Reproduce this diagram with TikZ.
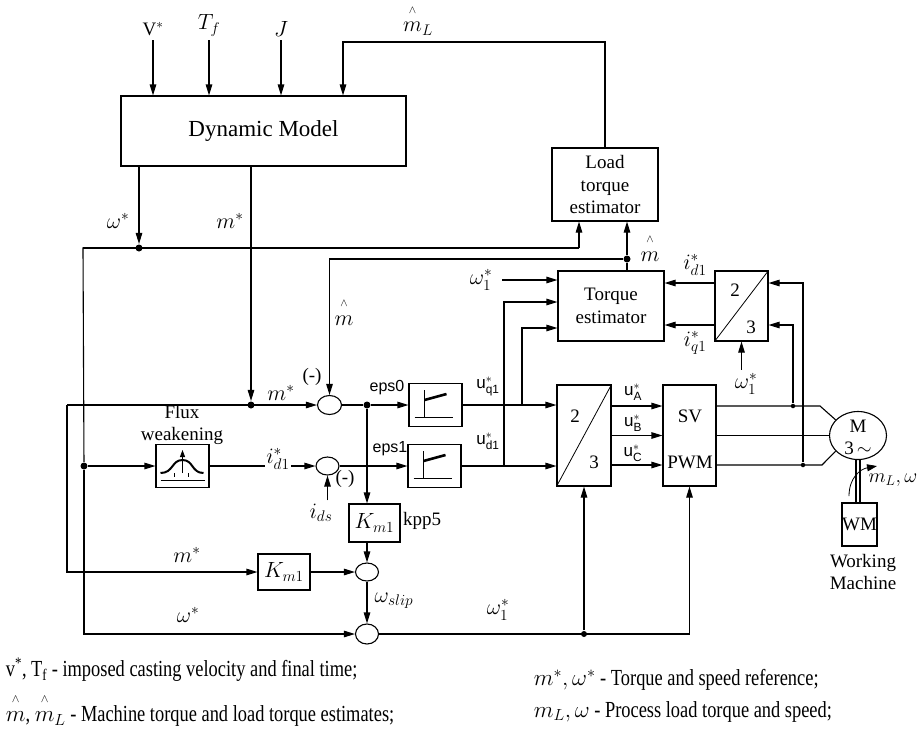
\documentclass[tikz,border=0pt]{standalone}
\usepackage{fix-cm}
\usepackage{amsmath}
\usepackage{fontspec}
\setmainfont{Liberation Serif}
\newfontfamily\sanslbl{Liberation Sans}
\newfontfamily\legendfont[FakeStretch=0.8]{Liberation Serif}
\usepackage{tikz}
\usetikzlibrary{shapes}
\usetikzlibrary{arrows.meta}
\newcommand\est[1]{\overset{\raisebox{5pt}{$\scriptscriptstyle\wedge$}}{#1}}
\tikzstyle{block}=[draw=black,rectangle,inner sep=0pt]
\tikzstyle{sumnode}=[draw=black,ellipse,inner sep=0pt,minimum width=24pt,minimum height=19pt]
\tikzstyle{joint}=[circle,fill=black,inner sep=0pt,minimum size=7pt]
\tikzstyle{tap}=[circle,fill=black,inner sep=0pt,minimum size=4.5pt]
\tikzstyle{arrow}=[-{Triangle[length=11pt,width=6.5pt]}]
\tikzstyle{sym}=[font=\fontsize{22}{24}\selectfont]
\tikzstyle{ulabel}=[font=\sanslbl\fontsize{17}{19}\selectfont]
\tikzstyle{legend}=[anchor=west,font=\fontsize{23}{25}\legendfont]
\tikzset{every picture/.style={
    line width=1.1pt
  }
}

\begin{document}
\begin{tikzpicture}[x=1pt,y=-1pt,font=\fontsize{19}{22.5}\selectfont]
      \useasboundingbox (0,0) rectangle (923,728);
      \node[block,minimum width=285pt,minimum height=70pt,font=\fontsize{23}{26}\selectfont] at (263.5,131) (dyn) {Dynamic Model};
      \node[anchor=south] at (153,40) (vref) {V$^*$};
      \node[sym,anchor=south] at (209,40) (tfin) {$T_f$};
      \node[sym,anchor=south] at (281,40) (jin) {$J$};
      \node[sym] at (418,20) (mlest) {$\est{m}_L$};
      \node[block,align=center,minimum width=106pt,minimum height=73pt] at (605,184.5) (lte) {Load\\torque\\estimator};
      \coordinate (mlcorner) at (343,42);
      \draw[arrow] (vref.south)--(vref.south|-dyn.north);
      \draw[arrow] (tfin.south)--(tfin.south|-dyn.north);
      \draw[arrow] (jin.south)--(jin.south|-dyn.north);
      \draw[arrow] (lte.north)|-(mlcorner)--(mlcorner|-dyn.north);

      \node[joint] at (139,248) (wdot) {};
      \node[joint] at (251,405) (mdot) {};
      \node[sym] at (118,221) {$\omega^*$};
      \node[sym] at (230,221) {$m^*$};
      \coordinate (wleft) at (83,248);
      \coordinate (wright) at (579,248);
      \coordinate (mleft) at (67,405);
      \draw[arrow] (dyn.south-|wdot)--(wdot);
      \draw[arrow] (dyn.south-|mdot)--(mdot);
      \draw (wleft)--(wright);
      \draw[arrow] (wright)--(wright|-lte.south);

      \node[block,align=center,minimum width=106pt,minimum height=70pt] at (611,306) (te) {Torque\\estimator};
      \node[joint] at (627,259) (mhdot) {};
      \node[sym] at (650,248) {$\est{m}$};
      \draw (te.north-|mhdot)--(mhdot);
      \draw[arrow] (mhdot)--(mhdot|-lte.south);
      \node[sumnode] at (329.5,405) (sum1) {};
      \draw[arrow] (mhdot)-|(sum1.north);
      \node[sym] at (344,312) {$\est{m}$};
      \node at (312,377) {(-)};
      \draw[arrow] (mleft)--(sum1);
      \node[sym] at (281,393) {$m^*$};

      \node[block,minimum width=53pt,minimum height=70pt] at (741.5,306) (tt1) {};
      \draw[line width=0.8pt] (tt1.south west)--(tt1.north east);
      \node at (735,290) {2};
      \node at (751,327) {3};
      \draw[arrow] ([yshift=23pt]tt1.west)--([yshift=23pt]te.east);
      \draw[arrow] ([yshift=-19pt]tt1.west)--([yshift=-19pt]te.east);
      \node[sym] at (695,265) {$i^*_{d1}$};
      \node[sym] at (695,343) {$i^*_{q1}$};
      \node[sym] at (481,280) (wone) {$\omega_1^*$};
      \draw[arrow] ([xshift=6pt]wone.east)--(wone.east-|te.west);
      \node[sym] at (746,384) (wtwo) {$\omega_1^*$};
      \draw[arrow] (tt1.south|-wtwo.north)--(tt1.south);

      \node[block,minimum width=53pt,minimum height=43pt] at (435.5,405) (pi1) {};
      \node[block,minimum width=53pt,minimum height=43pt] at (434.5,466) (pi2) {};
      \foreach \n in {pi1,pi2}{
        \draw[line width=0.9pt] ([shift={(-21,12)}]\n.center)--([shift={(17,12)}]\n.center);
        \draw[line width=0.9pt] ([shift={(-11,-15)}]\n.center)--([shift={(-11,12)}]\n.center);
        \draw[line width=2.6pt] ([shift={(-11,-5)}]\n.center)--([shift={(11,-11)}]\n.center);
      }
      \node[joint] at (367,405) (edot) {};
      \draw (sum1)--(edot);
      \draw[arrow] (edot)--(pi1);
      \node[font=\sanslbl\fontsize{16}{18}\selectfont] at (387,388) {eps0};
      \node[font=\sanslbl\fontsize{16}{18}\selectfont] at (390,449) {eps1};

      \node[joint] at (84,466) (fdot) {};
      \node[block,minimum width=53pt,minimum height=43pt] at (182.5,466) (fw) {};
      \draw[line width=2pt] ([shift={(-22,7)}]fw.center) .. controls ([shift={(-9,7)}]fw.center) and ([shift={(-11,-6)}]fw.center) .. ([shift={(0,-6)}]fw.center) .. controls ([shift={(11,-6)}]fw.center) and ([shift={(9,7)}]fw.center) .. ([shift={(21,7)}]fw.center);
      \draw[-{Triangle[length=7pt,width=5pt]},line width=0.9pt] ([shift={(0,7)}]fw.center)--([shift={(0,-16)}]fw.center);
      \draw[line width=0.9pt] ([shift={(-22,14)}]fw.center)--([shift={(22,14)}]fw.center);
      \draw[line width=0.7pt] ([shift={(-8,7)}]fw.center)--([shift={(-8,11)}]fw.center);
      \draw[line width=0.7pt] ([shift={(6,7)}]fw.center)--([shift={(6,11)}]fw.center);
      \node[align=center] at (182,425) {Flux\\weakening};
      \draw[arrow] (fdot)--(fw);
      \node[sumnode,minimum width=23pt,minimum height=18pt] at (327.5,466) (sum2) {};
      \draw[arrow] (fw)--(sum2);
      \node[sym,fill=white,inner sep=1pt] at (278,459) {$i^*_{d1}$};
      \draw[arrow] (sum2)--(pi2);
      \node at (345,479) {(-)};
      \node[sym] at (321,513) (ids) {$i_{ds}$};
      \draw[arrow] (sum2.south|-ids.north)--(sum2.south);

      \node[sym,block,minimum width=51pt,minimum height=38pt] at (374.5,523) (km1a) {$K_{m1}$};
      \node at (422,521) {kpp5};
      \draw[arrow] (edot)--(edot|-km1a.north);
      \node[sym,block,minimum width=52pt,minimum height=36pt] at (284,572) (km1b) {$K_{m1}$};
      \node[sym] at (187,555) {$m^*$};
      \draw[arrow] (mleft)|-(km1b);
      \node[sumnode,minimum width=23pt,minimum height=18pt] at (367,572) (sum3) {};
      \draw[arrow] (km1b)--(sum3);
      \draw[arrow] (sum3|-km1a.south)--(sum3);
      \node[sumnode,minimum width=23pt,minimum height=20pt] at (367,634) (sum4) {};
      \draw[arrow] (sum3)--(sum4);
      \node[sym] at (394,601) {$\omega_{slip}$};
      \draw (wdot)--(wleft)--(fdot);
      \draw[arrow] (fdot)|-(sum4);
      \node[sym] at (188,615) {$\omega^*$};

      \node[block,minimum width=54pt,minimum height=101pt] at (584,435.5) (tt2) {};
      \draw[line width=0.8pt] (tt2.south west)--(tt2.north east);
      \node at (575,416) {2};
      \node at (594,462) {3};
      \node[block,minimum width=53pt,minimum height=101pt] at (689.5,435.5) (pwm) {};
      \node at (690,416) {SV};
      \node at (690,462) {PWM};
      \draw[arrow] (pi1)--(pi1-|tt2.west);
      \draw[arrow] (pi2)--(pi2-|tt2.west);
      \coordinate (uqtap) at (522,405);
      \coordinate (udtap) at (504,466);
      \draw[arrow] (uqtap)|-([yshift=-22pt]te.west);
      \draw[arrow] (udtap)|-([yshift=4pt]te.west);
      \node[ulabel] at (488,386) {u$^*_{\text{q1}}$};
      \node[ulabel] at (488,441) {u$^*_{\text{d1}}$};
      \draw[arrow] ([yshift=29.5pt]tt2.east)--([yshift=29.5pt]pwm.west);
      \draw[arrow] (tt2.east)--(pwm.west);
      \draw[arrow] ([yshift=-29.5pt]tt2.east)--([yshift=-29.5pt]pwm.west);
      \node[ulabel] at (633,392) {u$^*_{\text{A}}$};
      \node[ulabel] at (633,423) {u$^*_{\text{B}}$};
      \node[ulabel] at (633,453) {u$^*_{\text{C}}$};
      \node[joint,minimum size=6pt] at (584,634) (wdot1) {};
      \coordinate (wend) at (689.5,634);
      \draw (sum4)--(wend);
      \draw[arrow] (wdot1)--(tt2.south);
      \draw[arrow] (wend)--(pwm.south);
      \node[sym] at (498,610) {$\omega_1^*$};

      \node[draw=black,ellipse,minimum width=57pt,minimum height=48pt,inner sep=0pt] at (858,435.5) (mot) {};
      \node at (858,426) {M};
      \node at (858,448) {3\,$\sim$};
      \node[tap] at (793,406) (atap) {};
      \node[tap] at (803,465) (ctap) {};
      \coordinate (abend) at (820,406);
      \coordinate (cbend) at (822,465);
      \draw ([yshift=29.5pt]pwm.east)--(abend)--(mot.145);
      \draw (pwm.east)--(mot.west);
      \draw ([yshift=-29.5pt]pwm.east)--(cbend)--(mot.215);
      \draw[arrow] (ctap)|-([yshift=23pt]tt1.east);
      \draw[arrow] (atap)|-([yshift=-19pt]tt1.east);
      \node[block,minimum width=35pt,minimum height=43pt] at (859.5,524.5) (wm) {WM};
      \draw ([xshift=-2pt]mot.south)--([xshift=-2pt]mot.south|-wm.north);
      \draw ([xshift=2pt]mot.south)--([xshift=2pt]mot.south|-wm.north);
      \draw[-{Triangle[length=10pt,width=7pt]},line width=0.8pt] ([shift={(-9,36)}]mot.south) .. controls ([shift={(-9,18)}]mot.south) and ([shift={(2,9)}]mot.south) .. ([shift={(19,6)}]mot.south);
      \node[anchor=west,inner sep=0pt,font=\fontsize{20}{22}\selectfont] at (868,480) {$m_L,\omega$};
      \node[align=center] at (863,572) {Working\\Machine};

      \node[legend] at (2,670) {v\textsuperscript{*}, T\textsubscript{f} - imposed casting velocity and final time;};
      \node[legend] at (2,710) {$\est{m}$, $\est{m}_L$ - Machine torque and load torque estimates;};
      \node[legend] at (530,680) {$m^*, \omega^*$ - Torque and speed reference;};
      \node[legend] at (530,712) {$m_L, \omega$ - Process load torque and speed;};
\end{tikzpicture}
\end{document}
